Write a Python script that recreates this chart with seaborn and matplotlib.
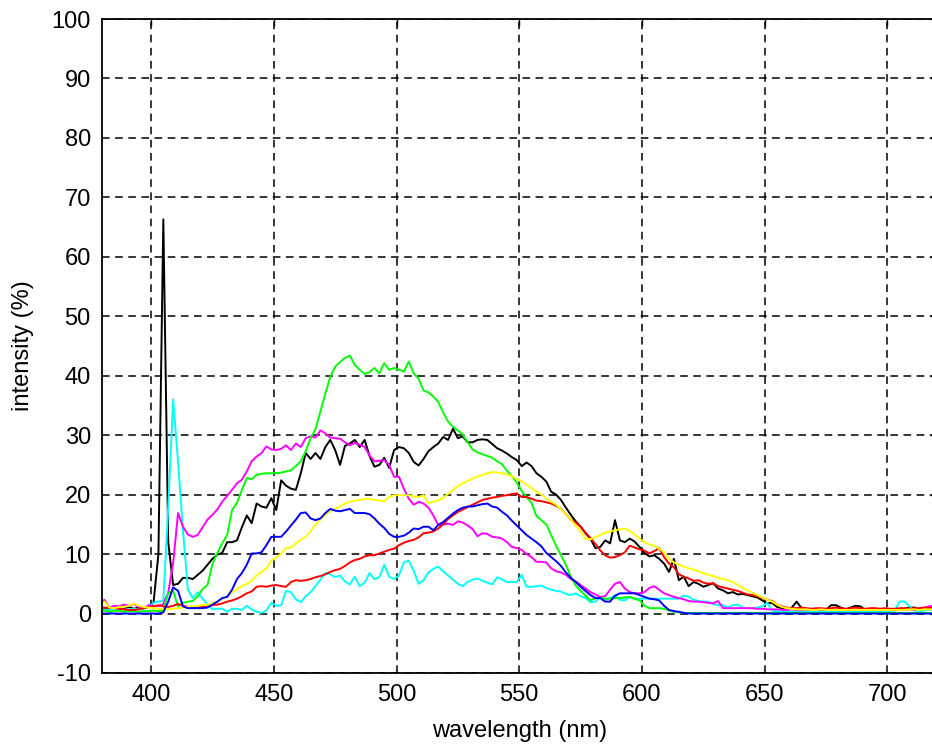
import numpy as np
import pandas as pd
import matplotlib
matplotlib.use("Agg")
import matplotlib.pyplot as plt
import seaborn as sns

# wavelength grid (nm), 2 nm steps
wavelength = np.arange(379, 722, 2)

black = [
    0.8, 0.9, 0.7, 1.0, 0.8, 0.9, 1.1, 0.8, 1.0, 0.9,
    1.2, 1.8, 10.0, 66.3, 12.0, 4.8, 5.0, 6.0, 6.0, 5.8,
    6.5, 7.2, 8.2, 9.2, 9.9, 10.2, 12.0, 12.0, 12.3, 14.5,
    16.5, 15.2, 18.5, 18.0, 17.8, 19.4, 17.4, 22.4, 21.5, 21.0,
    20.8, 23.6, 27.0, 26.0, 27.0, 26.0, 28.0, 29.2, 27.5, 25.0,
    28.2, 28.6, 29.2, 28.0, 29.2, 26.5, 24.7, 25.0, 26.2, 24.5,
    27.5, 28.0, 27.8, 27.0, 25.5, 24.9, 26.0, 27.3, 28.0, 28.6,
    29.7, 29.2, 31.1, 29.5, 29.8, 28.8, 28.8, 29.2, 29.3, 29.2,
    28.5, 27.8, 27.4, 26.9, 26.3, 25.8, 24.8, 25.4, 24.8, 23.6,
    23.0, 22.2, 20.5, 20.0, 19.1, 17.8, 16.6, 15.5, 14.6, 13.5,
    12.6, 11.0, 11.2, 12.3, 11.8, 15.7, 12.3, 12.0, 12.6, 12.1,
    11.2, 10.2, 9.6, 9.8, 9.2, 8.4, 7.0, 9.2, 5.6, 6.2,
    4.6, 5.3, 5.0, 4.5, 4.8, 5.1, 4.2, 3.9, 3.4, 3.6,
    3.2, 3.3, 3.1, 2.9, 2.7, 2.2, 1.7, 1.8, 1.1, 0.9,
    0.6, 1.0, 2.0, 0.9, 0.7, 0.6, 0.6, 0.7, 0.6, 1.4,
    1.4, 1.0, 0.7, 1.0, 1.3, 1.2, 0.6, 0.7, 0.6, 0.6,
    0.7, 0.6, 0.7, 0.6, 0.8, 1.0, 1.0, 0.7, 0.6, 0.8,
    0.8, 0.8,
]

green = [
    0.4, 0.5, 0.3, 0.4, 0.5, 0.3, 0.4, 0.4, 0.3, 0.4,
    0.4, 0.5, 0.4, 0.5, 3.5, 3.8, 1.2, 1.8, 2.0, 2.1,
    2.9, 4.1, 4.8, 8.3, 10.2, 11.8, 13.2, 17.4, 18.6, 20.8,
    22.8, 22.6, 23.3, 23.5, 23.6, 23.6, 23.6, 23.7, 23.9, 24.1,
    24.8, 25.6, 27.3, 29.5, 31.0, 34.0, 37.0, 39.8, 41.5, 42.3,
    43.0, 43.4, 41.8, 41.0, 40.3, 40.6, 41.3, 40.4, 42.1, 41.0,
    41.3, 41.0, 40.7, 42.4, 40.4, 39.5, 37.5, 37.2, 36.5, 35.6,
    33.8, 32.3, 31.4, 30.8, 30.1, 28.8, 27.6, 27.1, 26.8, 26.5,
    26.2, 25.6, 25.1, 24.0, 23.1, 22.0, 20.6, 19.6, 18.6, 16.4,
    15.7, 15.0, 13.2, 11.4, 9.8, 8.2, 6.2, 4.7, 3.8, 3.0,
    2.2, 2.6, 2.6, 2.5, 2.5, 2.6, 2.6, 2.7, 2.8, 2.5,
    2.2, 1.3, 0.9, 0.9, 0.9, 0.8, 0.5, 0.3, 0.2, 0.1,
    0.1, 0.1, 0.1, 0.1, 0.1, 0.1, 0.1, 0.1, 0.1, 0.1,
    0.1, 0.1, 0.1, 0.1, 0.1, 0.1, 0.1, 0.1, 0.1, 0.1,
    0.1, 0.1, 0.1, 0.1, 0.1, 0.1, 0.1, 0.1, 0.1, 0.1,
    0.1, 0.1, 0.1, 0.1, 0.1, 0.1, 0.1, 0.1, 0.1, 0.1,
    0.1, 0.1, 0.1, 0.1, 0.1, 0.1, 0.1, 0.1, 0.1, 0.1,
    0.1, 0.1,
]

magenta = [
    1.8, 2.3, 1.0, 1.3, 1.2, 1.5, 1.3, 1.6, 1.1, 0.9,
    1.4, 1.3, 1.2, 1.6, 3.5, 8.5, 16.9, 14.6, 13.3, 12.9,
    13.2, 14.5, 15.8, 16.6, 17.5, 18.8, 19.8, 20.8, 21.9, 22.5,
    23.9, 25.6, 26.4, 27.0, 28.1, 27.6, 27.5, 27.7, 28.3, 27.5,
    28.6, 28.0, 29.5, 29.8, 29.6, 30.8, 30.3, 29.6, 29.5, 29.4,
    28.8, 28.3, 28.7, 28.4, 28.0, 26.6, 25.6, 25.7, 25.8, 25.0,
    23.0, 23.0, 21.0, 19.3, 18.3, 18.8, 18.5, 17.8, 16.5, 14.9,
    15.0, 15.1, 14.9, 15.5, 15.3, 14.8, 14.2, 13.0, 13.5, 13.4,
    12.9, 12.8, 12.6, 12.0, 11.2, 11.0, 10.7, 10.0, 9.5, 8.7,
    8.7, 8.6, 7.6, 7.1, 6.9, 6.5, 5.8, 5.4, 4.8, 4.2,
    3.6, 3.2, 2.8, 2.9, 4.0, 5.0, 5.3, 4.2, 3.6, 3.4,
    3.4, 3.6, 4.3, 4.6, 4.0, 3.4, 3.1, 2.8, 2.6, 2.4,
    2.1, 2.0, 2.0, 1.9, 1.8, 1.7, 2.1, 0.9, 0.9, 0.9,
    0.9, 0.9, 0.9, 0.9, 0.8, 0.8, 0.7, 0.7, 0.7, 0.6,
    0.6, 0.7, 0.6, 0.6, 0.7, 0.6, 0.6, 0.7, 0.6, 0.6,
    0.6, 0.7, 0.6, 0.6, 0.6, 0.7, 0.6, 0.6, 0.7, 0.6,
    0.6, 0.6, 0.7, 0.6, 0.6, 0.7, 0.6, 0.8, 1.0, 1.2,
    1.3, 1.4,
]

cyan = [
    0.8, 0.7, 0.6, 0.8, 0.7, 0.6, 0.7, 0.8, 0.7, 0.8,
    1.1, 1.8, 2.0, 2.2, 18.0, 36.0, 25.5, 14.0, 4.0, 2.6,
    3.6, 2.5, 1.6, 0.7, 0.8, 0.8, 0.3, 0.8, 0.8, 0.6,
    1.3, 0.7, 0.3, 0.1, 0.5, 1.8, 1.3, 1.4, 3.8, 3.6,
    2.4, 1.9, 2.9, 3.6, 4.6, 5.7, 6.8, 6.6, 6.1, 6.4,
    5.4, 4.9, 6.2, 4.6, 5.2, 6.8, 5.8, 6.1, 8.2, 6.2,
    5.8, 6.4, 8.6, 8.9, 7.2, 5.0, 5.6, 6.9, 7.5, 7.9,
    7.1, 6.4, 5.7, 5.0, 4.6, 5.3, 5.7, 5.9, 5.5, 5.2,
    4.9, 6.1, 5.7, 5.3, 5.3, 5.3, 6.5, 4.5, 4.5, 4.6,
    4.7, 4.3, 4.0, 3.8, 3.7, 3.3, 3.1, 3.4, 2.9, 2.6,
    1.9, 2.0, 2.7, 2.3, 2.6, 3.0, 2.3, 2.2, 2.8, 2.4,
    2.5, 2.5, 2.5, 2.5, 2.5, 2.5, 2.5, 2.5, 2.5, 3.0,
    2.8, 2.3, 2.1, 2.0, 2.0, 1.6, 1.4, 1.4, 1.0, 1.4,
    1.5, 1.0, 0.9, 0.9, 1.0, 1.2, 1.8, 0.5, 0.4, 0.4,
    0.4, 0.3, 0.4, 0.3, 0.4, 0.4, 0.3, 0.4, 0.4, 0.3,
    0.4, 0.3, 0.4, 0.4, 0.3, 0.4, 0.4, 0.3, 0.4, 0.4,
    0.3, 0.4, 0.6, 2.0, 2.0, 1.2, 0.5, 0.4, 0.5, 0.6,
    0.7, 0.8,
]

red = [
    1.1, 1.0, 0.9, 0.9, 0.8, 0.7, 0.6, 0.6, 0.7, 0.9,
    1.1, 1.2, 1.4, 1.2, 1.1, 1.3, 1.6, 1.3, 1.1, 1.0,
    1.0, 1.1, 1.2, 1.4, 1.5, 1.7, 2.0, 2.2, 2.5, 2.9,
    3.4, 3.7, 4.5, 4.6, 4.5, 4.7, 4.8, 4.6, 4.5, 5.3,
    5.6, 5.5, 5.6, 5.8, 6.1, 6.3, 6.6, 7.0, 7.3, 7.5,
    8.0, 8.6, 9.0, 9.2, 9.6, 9.8, 9.8, 10.1, 10.4, 10.7,
    10.9, 11.5, 11.9, 12.2, 12.4, 12.8, 13.5, 13.6, 13.8, 14.3,
    15.0, 15.9, 16.5, 17.1, 17.5, 17.9, 18.3, 18.7, 19.1, 19.3,
    19.5, 19.6, 19.8, 19.9, 20.1, 20.2, 19.6, 19.6, 19.3, 19.0,
    18.9, 18.7, 18.5, 18.1, 17.6, 16.7, 15.8, 15.3, 14.6, 13.6,
    12.7, 11.7, 10.6, 9.8, 9.4, 9.5, 9.8, 10.3, 11.4, 11.1,
    10.8, 10.6, 10.1, 10.5, 11.0, 9.5, 8.4, 7.8, 6.6, 6.2,
    5.9, 5.5, 5.6, 5.2, 5.0, 5.1, 4.6, 4.4, 4.2, 4.0,
    3.8, 3.5, 3.2, 3.1, 2.9, 2.6, 2.3, 2.1, 1.5, 1.2,
    1.0, 0.9, 0.9, 1.0, 0.9, 0.8, 0.9, 0.9, 0.8, 0.9,
    1.0, 0.9, 0.8, 0.9, 1.0, 0.9, 0.8, 0.9, 0.9, 0.8,
    0.9, 0.8, 0.8, 0.9, 0.9, 0.8, 0.9, 0.9, 1.0, 1.0,
    1.0, 1.0,
]

yellow = [
    1.5, 2.0, 1.0, 0.9, 1.1, 1.1, 1.3, 1.7, 1.3, 1.1,
    1.0, 0.9, 0.8, 0.7, 0.7, 0.8, 0.9, 1.0, 1.1, 1.2,
    1.3, 1.4, 1.5, 1.7, 2.0, 2.4, 2.9, 3.5, 4.1, 4.6,
    5.0, 5.5, 6.4, 7.0, 7.6, 8.9, 9.4, 10.1, 11.0, 11.1,
    11.8, 12.4, 12.9, 13.8, 15.0, 15.8, 16.6, 17.2, 17.6, 18.0,
    18.5, 18.8, 19.0, 19.1, 19.3, 19.3, 19.1, 19.0, 18.9, 19.6,
    19.9, 19.9, 19.9, 19.9, 19.7, 19.6, 19.9, 18.5, 18.8, 19.0,
    19.5, 20.1, 20.8, 21.4, 21.9, 22.3, 22.7, 23.0, 23.3, 23.6,
    23.8, 23.7, 23.6, 23.4, 23.1, 22.6, 22.2, 21.7, 21.1, 20.5,
    20.0, 19.4, 18.8, 18.3, 17.5, 16.7, 15.8, 14.8, 13.8, 12.6,
    12.5, 12.8, 13.2, 13.6, 13.8, 14.0, 14.2, 14.3, 13.9, 13.3,
    12.6, 12.0, 11.6, 11.4, 10.9, 10.3, 9.2, 8.6, 8.2, 7.9,
    7.6, 7.4, 7.1, 6.8, 6.5, 6.3, 6.0, 5.8, 5.6, 5.3,
    4.8, 4.3, 3.9, 3.5, 3.1, 2.7, 2.3, 2.0, 1.5, 1.1,
    0.9, 0.8, 0.7, 0.7, 0.7, 0.6, 0.6, 0.7, 0.6, 0.6,
    0.6, 0.6, 0.6, 0.6, 0.6, 0.6, 0.6, 0.6, 0.6, 0.6,
    0.6, 0.6, 0.6, 0.6, 0.6, 0.7, 0.7, 0.6, 0.7, 0.7,
    0.7, 0.7,
]

blue = [
    0.0, 0.0, 0.0, 0.0, 0.0, 0.0, 0.0, 0.0, 0.0, 0.0,
    0.0, 0.0, 0.0, 0.2, 2.0, 4.4, 3.8, 1.2, 0.9, 0.9,
    0.9, 0.9, 1.0, 1.5, 2.0, 2.6, 2.8, 4.0, 5.8, 6.8,
    8.2, 10.1, 10.1, 10.3, 11.5, 12.9, 12.9, 12.9, 13.8, 14.8,
    15.8, 16.9, 17.0, 16.0, 15.7, 16.0, 16.9, 17.6, 17.3, 17.2,
    17.4, 17.6, 16.9, 16.9, 16.9, 16.7, 16.0, 15.1, 14.4, 13.4,
    12.9, 12.9, 13.1, 13.6, 14.3, 14.2, 14.6, 14.6, 14.0, 14.9,
    15.4, 16.1, 16.8, 17.4, 17.8, 18.0, 18.0, 18.2, 18.4, 18.5,
    18.0, 17.8, 17.1, 16.5, 15.6, 14.8, 14.0, 13.2, 12.6, 12.0,
    11.3, 10.2, 9.5, 8.8, 8.0, 6.9, 6.0, 5.3, 4.5, 3.8,
    3.1, 2.6, 2.6, 2.0, 2.0, 3.0, 3.4, 3.4, 3.4, 3.4,
    3.1, 2.8, 2.5, 2.4, 2.2, 1.3, 0.6, 0.4, 0.3, 0.1,
    0.0, 0.0, 0.0, 0.0, 0.0, 0.0, 0.0, 0.0, 0.0, 0.0,
    0.0, 0.0, 0.0, 0.0, 0.0, 0.0, 0.0, 0.0, 0.0, 0.0,
    0.0, 0.0, 0.0, 0.0, 0.0, 0.0, 0.0, 0.0, 0.0, 0.0,
    0.0, 0.0, 0.0, 0.0, 0.0, 0.0, 0.0, 0.0, 0.0, 0.0,
    0.0, 0.0, 0.0, 0.0, 0.0, 0.0, 0.0, 0.0, 0.0, 0.0,
    0.0, 0.0,
]

x_ticks = [400, 450, 500, 550, 600, 650, 700]
y_ticks = [-10, 0, 10, 20, 30, 40, 50, 60, 70, 80, 90, 100]

series = {
    "black": black,
    "cyan": cyan,
    "magenta": magenta,
    "green": green,
    "red": red,
    "yellow": yellow,
    "blue": blue,
}
colors = {
    "black": "#000000",
    "cyan": "#00ffff",
    "magenta": "#ff00ff",
    "green": "#00ff00",
    "red": "#ff0000",
    "yellow": "#ffff00",
    "blue": "#0000ff",
}

frames = []
for name, vals in series.items():
    frames.append(pd.DataFrame({"wavelength": wavelength[:len(vals)],
                                "intensity": vals, "series": name}))
df = pd.concat(frames, ignore_index=True)

sns.set_theme(style="white")
plt.rcParams["font.family"] = ["Liberation Sans", "DejaVu Sans"]
plt.rcParams["axes.unicode_minus"] = False

fig = plt.figure(figsize=(9.32, 7.46), dpi=100)
ax = fig.add_axes([0.1094, 0.0979, 0.8955, 0.8766])

sns.lineplot(data=df, x="wavelength", y="intensity", hue="series",
             hue_order=list(series.keys()), palette=colors,
             linewidth=1.4, legend=False, ax=ax, estimator=None,
             sort=False)

ax.set_xlim(380, 720)
ax.set_ylim(-10, 100)
ax.set_xticks(x_ticks)
ax.set_yticks(y_ticks)
ax.grid(True, color="black", linestyle=(0, (5, 3.6)), linewidth=1.1)
ax.set_axisbelow(True)

for sp in ax.spines.values():
    sp.set_color("black")
    sp.set_linewidth(1.3)

ax.tick_params(direction="in", length=5, width=1.0, colors="black",
               labelsize=17, top=True, right=True, pad=8)
ax.set_xlabel("wavelength (nm)", fontsize=17, color="black", labelpad=10)
ax.set_ylabel("intensity (%)", fontsize=17, color="black")
ax.yaxis.set_label_coords(-0.081, 0.5)

fig.savefig("out.png", dpi=100, facecolor="white")
